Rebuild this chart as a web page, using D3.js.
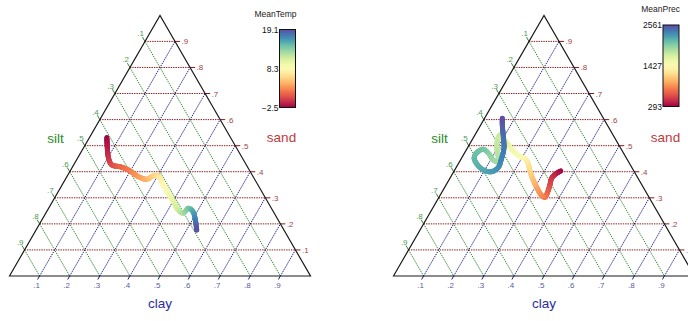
<!DOCTYPE html>
<html>
<head>
<meta charset="utf-8">
<script src="https://cdn.jsdelivr.net/npm/d3@7"></script>
<style>
  body { margin: 0; background: #fff; }
  svg { font-family: "Liberation Sans", Arial, sans-serif; }
</style>
</head>
<body>
<svg id="chart" width="688" height="321"></svg>
<script>
// grid / tick values shared by the three axes
const gridTicks = [0.1, 0.2, 0.3, 0.4, 0.5, 0.6, 0.7, 0.8, 0.9];

// left panel: mean temperature track (sand, clay fractions; silt = rest)
const tempSand = [0.531, 0.452, 0.426, 0.419, 0.407, 0.381, 0.371, 0.381, 0.387, 0.375,
                  0.349, 0.317, 0.285, 0.253, 0.241, 0.260, 0.249, 0.221, 0.176];
const tempClay = [0.058, 0.103, 0.127, 0.158, 0.191, 0.238, 0.270, 0.282, 0.295, 0.313,
                  0.336, 0.369, 0.402, 0.434, 0.457, 0.464, 0.484, 0.506, 0.534];
const tempVal  = [-2.5, -0.8, 0.1, 1.2, 2.0, 3.3, 4.2, 5.1, 5.9, 6.8,
                  7.9, 9.0, 10.0, 11.1, 12.4, 13.9, 15.4, 16.9, 19.1];

// right panel: mean precipitation track
const precSand = [0.403, 0.391, 0.375, 0.349, 0.323, 0.302, 0.311, 0.340, 0.366, 0.400,
                  0.435, 0.452, 0.458, 0.473, 0.503, 0.528, 0.541, 0.515, 0.477, 0.438,
                  0.445, 0.471, 0.486, 0.473, 0.452, 0.422, 0.404, 0.400, 0.417, 0.445,
                  0.490, 0.534, 0.579, 0.605];
const precClay = [0.354, 0.343, 0.338, 0.345, 0.351, 0.352, 0.335, 0.306, 0.282, 0.254,
                  0.229, 0.209, 0.192, 0.167, 0.130, 0.101, 0.083, 0.087, 0.106, 0.131,
                  0.109, 0.080, 0.055, 0.040, 0.042, 0.071, 0.102, 0.126, 0.140, 0.135,
                  0.122, 0.098, 0.072, 0.059];
const precVal  = [293, 384, 474, 565, 656, 747, 837, 928, 1019, 1132,
                  1246, 1336, 1427, 1495, 1586, 1654, 1722, 1767, 1813, 1858,
                  1903, 1971, 2039, 2085, 2107, 2153, 2198, 2243, 2289, 2334,
                  2380, 2425, 2493, 2561];

const svg = d3.select("#chart");
const fmtTick = d => "." + Math.round(d * 10);

function draw_ternary(cfg) {
    const L = 301, H = L * Math.sqrt(3) / 2;
    const sx = d3.scaleLinear().domain([0, 1]).range([cfg.x0, cfg.x0 + L]);
    const sy = d3.scaleLinear().domain([0, 1]).range([cfg.base, cfg.base - H]);
    const pt = (sand, clay) => [sx(clay + sand / 2), sy(sand)];

    const g = svg.append("g");
    const grid = g.append("g");

    // silt lines (green) - constant silt, parallel to the right edge
    gridTicks.forEach(function (v) {
        let a = pt(1 - v, 0), b = pt(0, 1 - v);
        grid.append("line").attr("x1", a[0]).attr("y1", a[1]).attr("x2", b[0]).attr("y2", b[1])
            .attr("stroke", "#2e8b2e").attr("stroke-width", 1).attr("stroke-dasharray", "1.4,1");
        grid.append("line").attr("x1", a[0]).attr("y1", a[1])
            .attr("x2", a[0] - 2.5).attr("y2", a[1] - 4.3)
            .attr("stroke", "#2e8b2e").attr("stroke-width", 1);
        grid.append("text").attr("x", a[0] - 1).attr("y", a[1] - 5)
            .attr("text-anchor", "end").attr("font-size", 8).attr("fill", "#4f9a4f")
            .text(fmtTick(v));
    });

    // clay lines (blue) - parallel to the left edge
    gridTicks.forEach(function (v) {
        let a = pt(0, v), b = pt(1 - v, v);
        grid.append("line").attr("x1", a[0]).attr("y1", a[1]).attr("x2", b[0]).attr("y2", b[1])
            .attr("stroke", "#1a1a8b").attr("stroke-width", 1).attr("stroke-dasharray", "1.4,1");
        grid.append("line").attr("x1", a[0]).attr("y1", a[1])
            .attr("x2", a[0] - 2).attr("y2", a[1] + 3.5)
            .attr("stroke", "#1a1a8b").attr("stroke-width", 1);
        grid.append("text").attr("x", a[0] - 3).attr("y", a[1] + 12)
            .attr("text-anchor", "middle").attr("font-size", 8).attr("fill", "#5a5aa8")
            .text(fmtTick(v));
    });

    // sand lines (red) - horizontal
    gridTicks.forEach(function (v) {
        let a = pt(v, 0), b = pt(v, 1 - v);
        grid.append("line").attr("x1", a[0]).attr("y1", a[1]).attr("x2", b[0]).attr("y2", b[1])
            .attr("stroke", "#8b1a1a").attr("stroke-width", 1).attr("stroke-dasharray", "1.4,1");
        grid.append("line").attr("x1", b[0]).attr("y1", b[1]).attr("x2", b[0] + 5).attr("y2", b[1])
            .attr("stroke", "#8b1a1a").attr("stroke-width", 1);
        grid.append("text").attr("x", b[0] + 6.5).attr("y", b[1] + 3)
            .attr("font-size", 8).attr("fill", "#a04646")
            .text(fmtTick(v));
    });

    // outline
    let corners = [pt(0, 0), pt(1, 0), pt(0, 1)];
    g.append("path").attr("d", d3.line()(corners) + "Z")
        .attr("fill", "none").attr("stroke", "#1a1a1a").attr("stroke-width", 1.2);

    // axis titles
    g.append("text").attr("x", cfg.x0 + 46).attr("y", 143).attr("text-anchor", "middle")
        .attr("font-size", 13.5).attr("fill", "#2a8a2a").text("silt");
    g.append("text").attr("x", cfg.x0 + 272).attr("y", 142).attr("text-anchor", "middle")
        .attr("font-size", 13.5).attr("fill", "#c0393b").text("sand");
    g.append("text").attr("x", cfg.x0 + L / 2).attr("y", 308).attr("text-anchor", "middle")
        .attr("font-size", 13.5).attr("fill", "#2a2aa8").text("clay");

    // coloured track
    const color = d3.scaleSequential(d3.interpolateSpectral).domain(cfg.domain);
    const pts = cfg.sand.map((s, i) => pt(s, cfg.clay[i]));
    const hidden = g.append("path").attr("d", d3.line().curve(d3.curveCatmullRom.alpha(0.5))(pts))
        .attr("fill", "none").attr("stroke", "none");
    const node = hidden.node(), total = node.getTotalLength();
    const step = 1;
    let samples = [];
    for (let l = 0; l <= total; l += step) {
        let p = node.getPointAtLength(l);
        samples.push([p.x, p.y]);
    }
    let last = node.getPointAtLength(total);
    samples.push([last.x, last.y]);
    // index of each data point along the samples
    let idx = [], from = 0;
    pts.forEach(function (p, k) {
        if (k === 0) { idx.push(0); return; }
        if (k === pts.length - 1) { idx.push(samples.length - 1); return; }
        let best = from, bd = Infinity;
        for (let j = from; j < Math.min(samples.length, from + 80); j++) {
            let d = Math.hypot(samples[j][0] - p[0], samples[j][1] - p[1]);
            if (d < bd) { bd = d; best = j; }
        }
        idx.push(best);
        from = best + 1;
    });
    const valAt = d3.scaleLinear().domain(idx).range(cfg.vals);
    const track = g.append("g");
    for (let j = 0; j < samples.length - 1; j++) {
        track.append("line")
            .attr("x1", samples[j][0]).attr("y1", samples[j][1])
            .attr("x2", samples[j + 1][0]).attr("y2", samples[j + 1][1])
            .attr("stroke", color(valAt(j + 0.5)))
            .attr("stroke-width", 5).attr("stroke-linecap", "round");
    }

    // colour bar
    const gradId = "grad" + cfg.id;
    const grad = svg.append("defs").append("linearGradient").attr("id", gradId)
        .attr("x1", 0).attr("y1", 1).attr("x2", 0).attr("y2", 0);
    d3.range(0, 1.0001, 0.05).forEach(function (t) {
        grad.append("stop").attr("offset", t).attr("stop-color", d3.interpolateSpectral(t));
    });
    const bar = cfg.bar;
    g.append("rect").attr("x", bar.x).attr("y", bar.y).attr("width", bar.w).attr("height", bar.h)
        .attr("fill", "url(#" + gradId + ")").attr("stroke", "#111").attr("stroke-width", 1);
    const by = d3.scaleLinear().domain(cfg.domain).range([bar.y + bar.h, bar.y]);
    const mid = (cfg.domain[0] + cfg.domain[1]) / 2;
    [cfg.domain[0], mid, cfg.domain[1]].forEach(function (v) {
        g.append("text").attr("x", bar.x - 1).attr("y", by(v) + 3)
            .attr("text-anchor", "end").attr("font-size", 8.5).attr("fill", "#111")
            .text(cfg.fmt(v));
    });
    g.append("text").attr("x", bar.x + bar.w + 1).attr("y", bar.ty)
        .attr("text-anchor", "end").attr("font-size", 8.5).attr("fill", "#222")
        .text(cfg.title);
}

draw_ternary({
    id: "temp", x0: 9.5, base: 276,
    sand: tempSand, clay: tempClay, vals: tempVal, domain: [-2.5, 19.1],
    fmt: d3.format(".1f"), title: "MeanTemp",
    bar: {x: 279.5, y: 29.5, w: 16, h: 78, ty: 17}
});

draw_ternary({
    id: "prec", x0: 393.5, base: 276,
    sand: precSand, clay: precClay, vals: precVal, domain: [293, 2561],
    fmt: d3.format("d"), title: "MeanPrec",
    bar: {x: 663, y: 25, w: 16, h: 81.5, ty: 12}
});
</script>
</body>
</html>
